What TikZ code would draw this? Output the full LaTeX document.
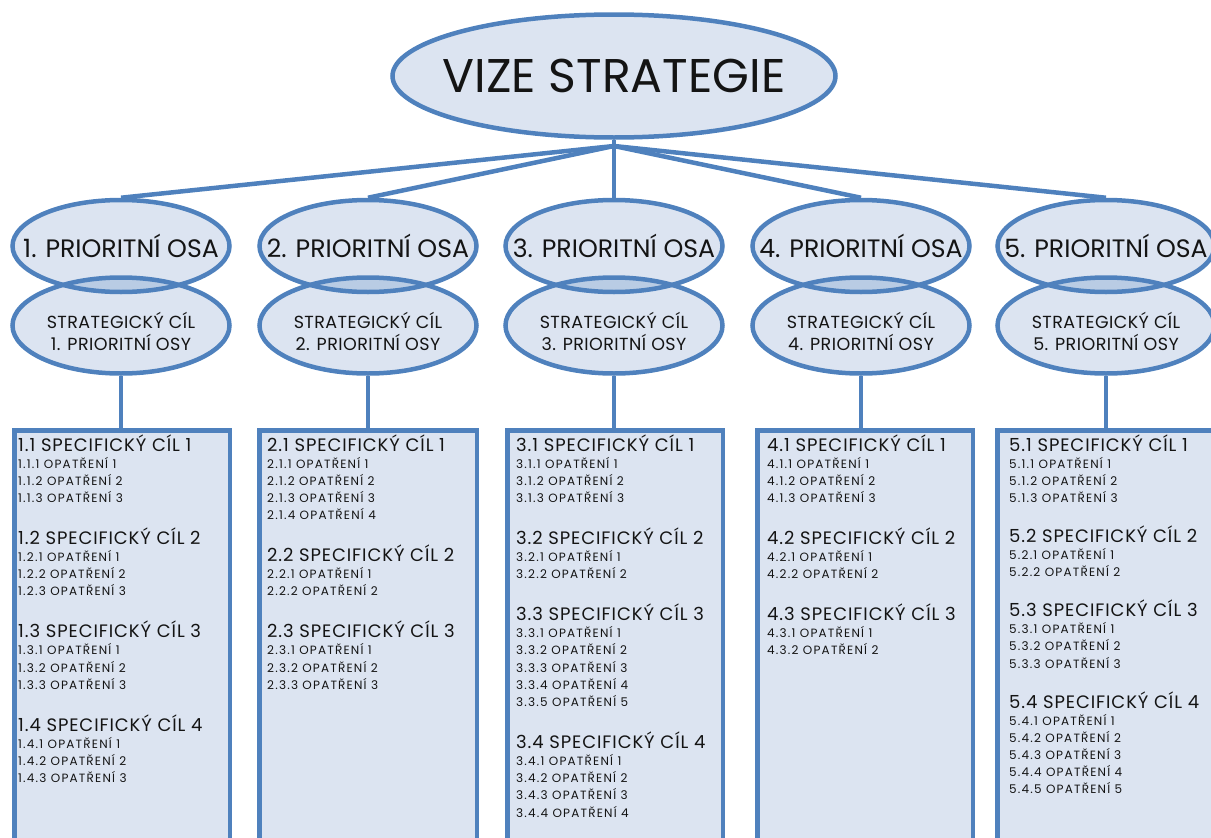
\documentclass[tikz,border=0pt]{standalone}
\usepackage{fontspec}
\setmainfont{Poppins}
\newfontfamily\hdfont[LetterSpace=5]{Poppins}
\newfontfamily\itfont[LetterSpace=10]{Poppins}
\newfontfamily\stfont[LetterSpace=2.5]{Poppins}
\usetikzlibrary{shapes.geometric}
\definecolor{bord}{RGB}{79,129,189}
\definecolor{fillc}{RGB}{220,228,241}
\definecolor{lensc}{RGB}{185,204,228}
\definecolor{txt}{RGB}{20,20,20}
\tikzset{
  ell/.style={ellipse, draw=bord, line width=4.5pt, inner sep=0pt},
  etxt/.style={inner sep=0pt, text=txt},
  conn/.style={draw=bord, line width=4.5pt},
  boxst/.style={rectangle, draw=bord, fill=fillc, line width=4.5pt, inner sep=0pt, anchor=north west},
  hd/.style={inner sep=0pt, text=txt, font=\hdfont\fontsize{18}{20}\selectfont, anchor=base west},
  itm/.style={inner sep=0pt, text=txt, font=\itfont\fontsize{12}{13}\selectfont, anchor=base west},
  sttxt/.style={inner sep=0pt, text=txt, align=center, font=\stfont\fontsize{17.5}{22}\selectfont}
}
\newcommand\specbox[4]{%
  \xdef\cury{445}%
  \foreach \cnt [count=\gnum] in {#4} {
    \node[hd] (h#1-\gnum) at (#2,{\cury+6}) {#1.\gnum\ SPECIFICKÝ CÍL \gnum};
    \foreach \inum in {1,...,\cnt} {
      \node[itm] (o#1-\gnum-\inum) at (#2,{\cury+19+17.2*(\inum-1)+4}) {#1.\gnum.\inum\ OPATŘENÍ \inum};
    }
    \pgfmathsetmacro\tmpy{\cury+19+17.2*(\cnt-1)+#3}
    \xdef\cury{\tmpy}
  }
}
\begin{document}
\begin{tikzpicture}[x=1pt,y=-1pt]
\useasboundingbox (0,0) rectangle (1211,838);
\clip (0,0) rectangle (1211,838);
% boxes
\node[boxst, minimum width=215.5pt, minimum height=440pt] (b1) at (12.25,428.25) {};
\node[boxst, minimum width=217.5pt, minimum height=440pt] (b2) at (257.25,428.25) {};
\node[boxst, minimum width=215.5pt, minimum height=440pt] (b3) at (505.25,428.25) {};
\node[boxst, minimum width=215.5pt, minimum height=440pt] (b4) at (755.25,428.25) {};
\node[boxst, minimum width=240pt, minimum height=440pt] (b5) at (995.25,428.25) {};
% ellipse fills
\foreach \cx in {121,368,614,861,1106} {
  \fill[fillc] (\cx,246) ellipse [x radius=108.5, y radius=46];
  \fill[fillc] (\cx,325.5) ellipse [x radius=108.5, y radius=48];
  \begin{scope}
    \clip (\cx,246) ellipse [x radius=108.5, y radius=46];
    \fill[lensc] (\cx,325.5) ellipse [x radius=108.5, y radius=48];
  \end{scope}
}
\fill[fillc] (614,76) ellipse [x radius=221.5, y radius=61.5];
% nodes
\node[ell, minimum width=443pt, minimum height=123pt] (top) at (614,76) {};
\node[etxt, font=\fontsize{47.3}{50}\selectfont] (toptxt) at (614,76) {VIZE STRATEGIE};
\coordinate (hub) at (614,146);
\foreach \k/\cx in {1/121,2/368,3/614,4/861,5/1106} {
  \node[ell, minimum width=217pt, minimum height=92pt] (p\k) at (\cx,246) {};
  \node[etxt, font=\fontsize{25.2}{28}\selectfont] (pt\k) at (\cx,246) {\k. PRIORITNÍ OSA};
  \node[ell, minimum width=217pt, minimum height=96pt] (s\k) at (\cx,325.5) {};
  \node[sttxt] (st\k) at (\cx,331) {STRATEGICKÝ CÍL\\\k. PRIORITNÍ OSY};
}
% connectors
\draw[conn] (top.south) -- (hub);
\foreach \k in {1,...,5} {
  \draw[conn] (hub) -- (p\k.north);
  \draw[conn] (s\k.south) -- (b\k.north -| s\k.south);
}
% texts
\specbox{1}{18}{40}{3,3,3,3}
\specbox{2}{267}{40}{4,2,3}
\specbox{3}{516}{40}{3,2,5,4}
\specbox{4}{767}{40}{3,2,2}
\specbox{5}{1009}{38}{3,2,3,5}
\end{tikzpicture}
\end{document}
